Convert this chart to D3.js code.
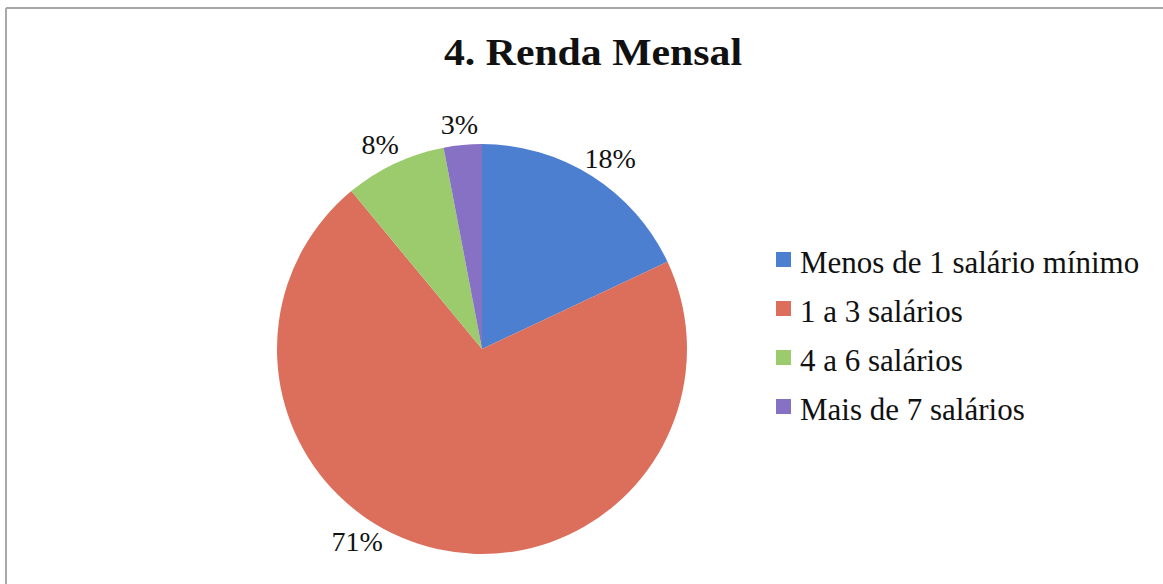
<!DOCTYPE html>
<html>
<head>
<meta charset="utf-8">
<script src="https://cdn.jsdelivr.net/npm/d3@7"></script>
<style>
  body { margin: 0; background: #fff; }
</style>
</head>
<body>
<div id="chart"></div>
<script>
var svgWidth = 1163;
var svgHeight = 584;

// data
var categories = ["Menos de 1 salário mínimo", "1 a 3 salários", "4 a 6 salários", "Mais de 7 salários"];
var values = [18, 71, 8, 3];
var colors = ["#4d7fd1", "#db6f5b", "#9ccb6e", "#8771c4"];
var title = "4. Renda Mensal";

var serif = "'Liberation Serif', 'DejaVu Serif', 'Times New Roman', serif";
var cx = 482, cy = 349, radius = 205;

var svg = d3.select("#chart")
    .append("svg")
    .attr("width", svgWidth)
    .attr("height", svgHeight)
    .style("font-family", serif);

// chart frame (only top and left edges show)
svg.append("line")
    .attr("x1", 6).attr("y1", 8).attr("x2", 1163).attr("y2", 8)
    .attr("stroke", "#a8a8a8").attr("stroke-width", 2);
svg.append("line")
    .attr("x1", 6).attr("y1", 8).attr("x2", 6).attr("y2", 584)
    .attr("stroke", "#a8a8a8").attr("stroke-width", 2);

svg.append("text")
    .attr("x", 593)
    .attr("y", 65)
    .attr("text-anchor", "middle")
    .attr("font-family", serif)
    .style("font-size", "38px")
    .style("font-weight", "bold")
    .attr("fill", "#111")
    .attr("textLength", 298)
    .attr("lengthAdjust", "spacingAndGlyphs")
    .text(title);

var data = categories.map(function (c, i) {
    return { name: c, value: values[i], color: colors[i] };
});

var pie = d3.pie()
    .sort(null)
    .value(d => d.value);

var arc = d3.arc()
    .innerRadius(0)
    .outerRadius(radius);

var arcs = pie(data);

var pieGroup = svg.append("g")
    .attr("transform", `translate(${cx}, ${cy})`);

pieGroup.selectAll("path")
    .data(arcs)
    .enter()
    .append("path")
    .attr("d", arc)
    .attr("fill", d => d.data.color);

// labels just outside the edge; slid round the rim if they would fall off the bottom
var labelRadius = 215;
var maxY = 193;
var labelW = 48, labelH = 22;
var total = d3.sum(values);

function labelPos(a) {
    var s = Math.sin(a), c = Math.cos(a);
    return [labelRadius * s + labelW / 2 * s, -labelRadius * c - labelH / 2 * c];
}

pieGroup.selectAll("text.pct")
    .data(arcs)
    .enter()
    .append("text")
    .attr("class", "pct")
    .attr("text-anchor", "middle")
    .attr("dy", "0.35em")
    .attr("font-family", serif)
    .attr("fill", "#111")
    .style("font-size", "28px")
    .attr("transform", function (d) {
        var a = (d.startAngle + d.endAngle) / 2;
        var p = labelPos(a);
        while (p[1] > maxY) {
            a += a > Math.PI ? 0.01 : -0.01;
            p = labelPos(a);
        }
        return `translate(${p[0]}, ${p[1]})`;
    })
    .text(d => Math.round(d.data.value / total * 100) + "%");

// legend
var legend = svg.append("g")
    .attr("transform", "translate(776, 252)");

var rows = legend.selectAll("g")
    .data(data)
    .enter()
    .append("g")
    .attr("transform", (d, i) => `translate(0, ${i * 49})`);

rows.append("rect")
    .attr("width", 15)
    .attr("height", 15)
    .attr("fill", d => d.color);

rows.append("text")
    .attr("x", 24)
    .attr("y", 21)
    .attr("font-family", serif)
    .attr("fill", "#111")
    .style("font-size", "31px")
    .text(d => d.name);
</script>
</body>
</html>
